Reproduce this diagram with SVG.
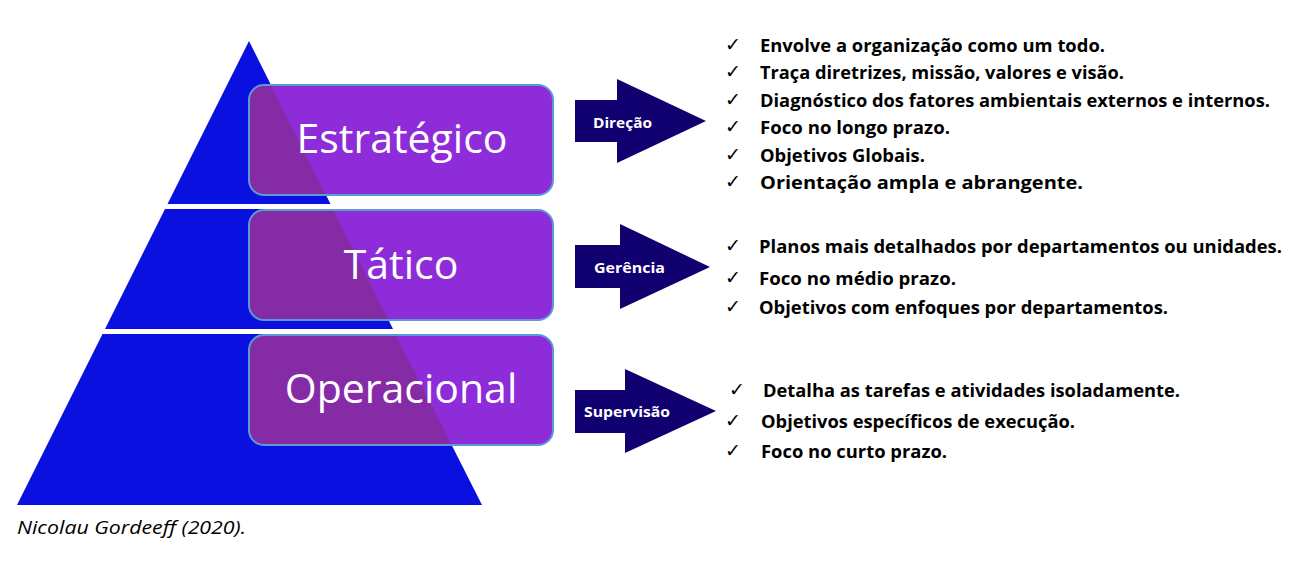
<svg xmlns="http://www.w3.org/2000/svg" width="1302" height="568" viewBox="0 0 1302 568">
<style>
.pyr{fill:#0a10e0}
.box{fill:#8f2cd9}
.ov{fill:#852ba6}
.bst{fill:none;stroke:#5b9bd5;stroke-width:2}
.big{font-family:"Open Sans","Noto Sans",sans-serif;font-size:41px;fill:#ffffff;text-anchor:middle}
.arr{fill:#110070}
.al{font-family:"Open Sans","Noto Sans",sans-serif;font-size:15px;font-weight:bold;fill:#ffffff;text-anchor:middle}
.ck{font-family:"DejaVu Sans",sans-serif;font-size:19px;fill:#000000}
.bt{font-family:"Open Sans","Noto Sans",sans-serif;font-size:17.5px;font-weight:bold;fill:#000000}
.ft{font-family:"Open Sans","Noto Sans",sans-serif;font-size:19px;font-style:italic;fill:#000000}
</style>
<defs>
<clipPath id="pc">
<polygon points="249,41 330.5,204 167.5,204"/>
<polygon points="165,209 333,209 393,329 105,329"/>
<polygon points="102.5,334 395.5,334 482,505 17,505"/>
</clipPath>
</defs>
<g id="pyramid">
<polygon class="pyr" points="249,41 330.5,204 167.5,204"/>
<polygon class="pyr" points="165,209 333,209 393,329 105,329"/>
<polygon class="pyr" points="102.5,334 395.5,334 482,505 17,505"/>
</g>
<g id="estrategico">
<rect class="box" x="249" y="85" width="304" height="110" rx="15"/>
<rect class="ov" x="249" y="85" width="304" height="110" rx="15" clip-path="url(#pc)"/>
<rect class="bst" x="249" y="85" width="304" height="110" rx="15"/>
<text class="big" x="402" y="153">Estratégico</text>
</g>
<g id="tatico">
<rect class="box" x="249" y="210" width="304" height="110" rx="15"/>
<rect class="ov" x="249" y="210" width="304" height="110" rx="15" clip-path="url(#pc)"/>
<rect class="bst" x="249" y="210" width="304" height="110" rx="15"/>
<text class="big" x="401" y="279">Tático</text>
</g>
<g id="operacional">
<rect class="box" x="249" y="335" width="304" height="110" rx="15"/>
<rect class="ov" x="249" y="335" width="304" height="110" rx="15" clip-path="url(#pc)"/>
<rect class="bst" x="249" y="335" width="304" height="110" rx="15"/>
<text class="big" x="401" y="403">Operacional</text>
</g>
<g id="connectors">
<g id="arrow-direcao">
<polygon class="arr" points="575,100 617,100 617,79 706,121 617,163 617,142 575,142"/>
<text class="al" x="622.5" y="127.5" textLength="59" lengthAdjust="spacingAndGlyphs">Direção</text>
</g>
<g id="arrow-gerencia">
<polygon class="arr" points="575,245 620,245 620,224 710,267 620,309 620,288 575,288"/>
<text class="al" x="629.5" y="272.5" textLength="71" lengthAdjust="spacingAndGlyphs">Gerência</text>
</g>
<g id="arrow-supervisao">
<polygon class="arr" points="575,390 625,390 625,369 716,411 625,453 625,433 575,433"/>
<text class="al" x="627" y="416.5" textLength="86" lengthAdjust="spacingAndGlyphs">Supervisão</text>
</g>
</g>
<g id="list-estrategico">
<text class="ck" x="725" y="51">✓</text><text class="bt" x="760" y="52" textLength="345" lengthAdjust="spacingAndGlyphs">Envolve a organização como um todo.</text>
<text class="ck" x="725" y="78">✓</text><text class="bt" x="760" y="79" textLength="364" lengthAdjust="spacingAndGlyphs">Traça diretrizes, missão, valores e visão.</text>
<text class="ck" x="725" y="106">✓</text><text class="bt" x="760" y="107" textLength="510" lengthAdjust="spacingAndGlyphs">Diagnóstico dos fatores ambientais externos e internos.</text>
<text class="ck" x="725" y="133">✓</text><text class="bt" x="760" y="134" textLength="190" lengthAdjust="spacingAndGlyphs">Foco no longo prazo.</text>
<text class="ck" x="725" y="161">✓</text><text class="bt" x="760" y="162" textLength="165" lengthAdjust="spacingAndGlyphs">Objetivos Globais.</text>
<text class="ck" x="725" y="188">✓</text><text class="bt" x="760" y="189" textLength="323" lengthAdjust="spacingAndGlyphs">Orientação ampla e abrangente.</text>
</g>
<g id="list-tatico">
<text class="ck" x="725" y="252">✓</text><text class="bt" x="759" y="253" textLength="523" lengthAdjust="spacingAndGlyphs">Planos mais detalhados por departamentos ou unidades.</text>
<text class="ck" x="725" y="284">✓</text><text class="bt" x="759" y="285" textLength="197" lengthAdjust="spacingAndGlyphs">Foco no médio prazo.</text>
<text class="ck" x="725" y="313">✓</text><text class="bt" x="759" y="314" textLength="409" lengthAdjust="spacingAndGlyphs">Objetivos com enfoques por departamentos.</text>
</g>
<g id="list-operacional">
<text class="ck" x="729" y="396">✓</text><text class="bt" x="763" y="397" textLength="417" lengthAdjust="spacingAndGlyphs">Detalha as tarefas e atividades isoladamente.</text>
<text class="ck" x="725" y="427">✓</text><text class="bt" x="761" y="428" textLength="314" lengthAdjust="spacingAndGlyphs">Objetivos específicos de execução.</text>
<text class="ck" x="725" y="457">✓</text><text class="bt" x="761" y="458" textLength="186" lengthAdjust="spacingAndGlyphs">Foco no curto prazo.</text>
</g>
<text id="footer" class="ft" x="17" y="534" textLength="229" lengthAdjust="spacingAndGlyphs">Nicolau Gordeeff (2020).</text>
</svg>
